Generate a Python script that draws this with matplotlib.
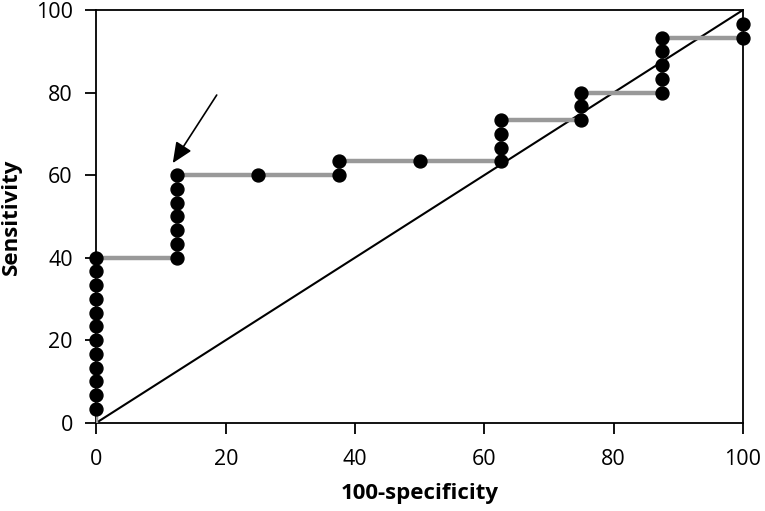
import matplotlib
matplotlib.use("Agg")
import matplotlib.pyplot as plt

plt.rcParams['font.family'] = ['Open Sans', 'DejaVu Sans']

# ROC step data (100-specificity, sensitivity)
fpr = [0, 0, 0, 0, 0, 0, 0, 0, 0, 0, 0, 0, 0,
       12.5, 12.5, 12.5, 12.5, 12.5, 12.5, 12.5,
       25, 37.5, 37.5, 50,
       62.5, 62.5, 62.5, 62.5,
       75, 75, 75,
       87.5, 87.5, 87.5, 87.5, 87.5,
       100, 100]
tpr = [0, 3.33, 6.67, 10, 13.33, 16.67, 20, 23.33, 26.67, 30, 33.33, 36.67, 40,
       40, 43.33, 46.67, 50, 53.33, 56.67, 60,
       60, 60, 63.33, 63.33,
       63.33, 66.67, 70, 73.33,
       73.33, 76.67, 80,
       80, 83.33, 86.67, 90, 93.33,
       93.33, 96.67]
# points drawn as dots (skip origin)
dot_x = fpr[1:]
dot_y = tpr[1:]

diag = [0, 100]
ticks = [0, 20, 40, 60, 80, 100]
arrow_tail = (18.6, 79.4)
arrow_head = (11.8, 62.9)

fig = plt.figure(figsize=(7.65, 5.11), dpi=100)
ax = fig.add_axes([0.1261, 0.1728, 0.8451, 0.8076])

ax.plot(diag, diag, color='black', lw=1.5, zorder=2)
# horizontal-and-vertical step path
ax.plot(fpr, tpr, color='#999999', lw=3.2, zorder=3, solid_capstyle='butt')
ax.plot(dot_x, dot_y, 'o', color='black', ms=9.3, zorder=4, clip_on=False)

ax.annotate('', xy=arrow_head, xytext=arrow_tail,
            arrowprops=dict(arrowstyle='-|>,head_length=1.25,head_width=0.55',
                            color='black', lw=1.2, shrinkA=0, shrinkB=0))

ax.set_xlim(0, 100)
ax.set_ylim(0, 100)
ax.set_xticks(ticks)
ax.set_yticks(ticks)
ax.tick_params(direction='out', length=8, width=1.3, labelsize=15.5, pad=9)
ax.tick_params(axis='x', pad=11)
for s in ax.spines.values():
    s.set_linewidth(1.3)
ax.set_xlabel('100-specificity', fontsize=16, fontweight='bold', labelpad=9)
ax.set_ylabel('Sensitivity', fontsize=16, fontweight='bold', labelpad=10)

fig.savefig('out.png', dpi=100)
